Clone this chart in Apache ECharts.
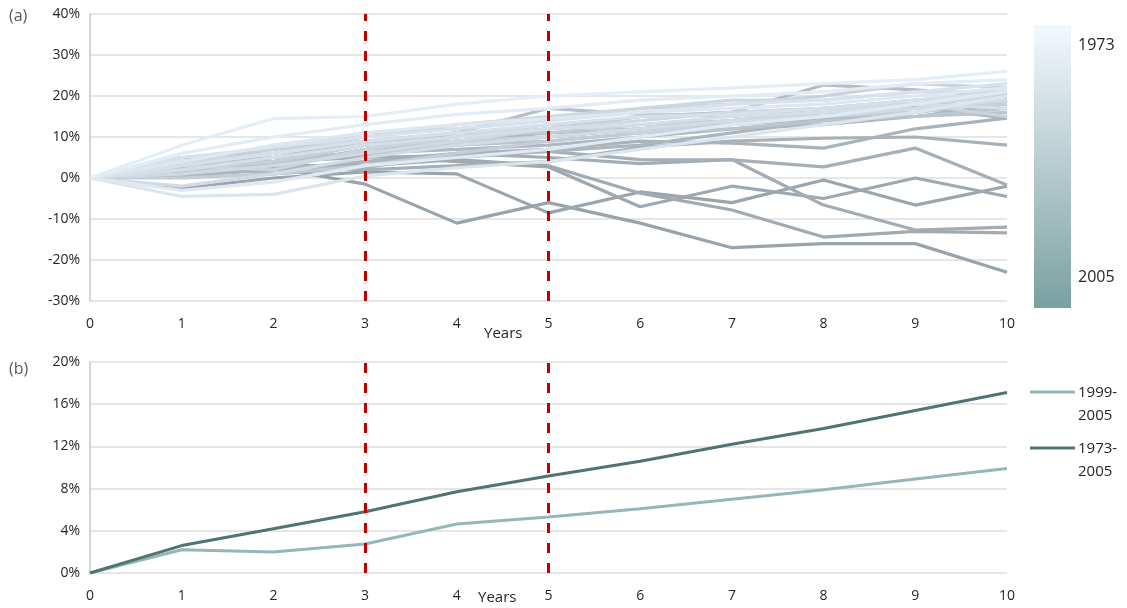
<!DOCTYPE html>
<html>
<head>
<meta charset="utf-8">
<script src="https://cdn.jsdelivr.net/npm/echarts@6/dist/echarts.min.js"></script>
<style>
  html, body { margin: 0; padding: 0; background: #fff; }
  #chart { width: 1127px; height: 608px; }
</style>
</head>
<body>
<div id="chart"></div>
<script>
// years after start
const yearsOut = [0, 1, 2, 3, 4, 5, 6, 7, 8, 9, 10];

// panel (a): one path per start year, 1973 .. 2005 (percent)
const startYears = [];
for (let y = 1973; y <= 2005; y++) startYears.push(y);

const pathsA = [
  [0, 8, 14.5, 15, 18, 20, 21, 22, 23, 24, 26],        // 1973
  [0, 6, 10, 13, 15.5, 17, 19, 20, 21, 23, 24],        // 1974
  [0, -3, -1, 3, 5, 7, 10, 13, 15, 18, 21],            // 1975
  [0, 4, 8, 11, 13, 14.5, 16, 17, 18, 20, 22],         // 1976
  [0, -4.5, -4, 0.5, 2.5, 4, 7, 10, 13, 16, 20],       // 1977
  [0, 5, 7.5, 10, 12, 14, 16, 18, 19, 21, 23],         // 1978
  [0, 3, 6, 9, 11, 13, 15, 15.5, 17, 19, 21],          // 1979
  [0, 2, 5, 8, 10, 12, 13, 15, 16, 18, 17],            // 1980
  [0, -2, 1, 5, 8, 10, 12, 14, 15, 17, 19],            // 1981
  [0, 1, 3, 6, 9, 12, 14, 16, 17, 18, 20],             // 1982
  [0, 4, 6, 10, 13, 15, 17, 19, 19, 21, 21],           // 1983
  [0, 3, 2, 7, 10, 13, 11, 14, 16, 18, 15],            // 1984
  [0, 5, 7, 11, 12, 14, 17, 18, 20, 23, 22],           // 1985
  [0, 2, 4, 8, 9, 10, 12, 14, 16, 17, 18],             // 1986
  [0, 0, 1, 3, 6, 9, 11, 13, 15, 16, 19],              // 1987
  [0, 3, 6, 9, 11, 11, 13, 14, 15, 17, 21],            // 1988
  [0, 4, 7, 9, 10, 12, 15, 16, 17, 18, 20],            // 1989
  [0, 1, 5, 8, 8, 10, 12, 14, 16, 15, 17],             // 1990
  [0, 2, 4, 6, 8, 9, 11, 12, 14, 15, 16],              // 1991
  [0, 3, 5, 6, 9, 10, 12, 14, 15, 16, 19],             // 1992
  [0, 2, 4, 8, 11, 17, 15.5, 15, 17, 19, 20.5],        // 1993
  [0, 3, 5, 9, 10, 12, 15, 16, 22.7, 21.5, 19.8],      // 1994
  [0, 1, 3, 7, 9, 11, 12, 13, 14.5, 16, 19],           // 1995
  [0, 2, 3.5, 6, 7, 8, 10, 12, 13, 15, 18],            // 1996
  [0, 0.5, 2, 4, 5, 6.5, 8, 11, 14, 17.3, 14.6],       // 1997
  [0, 3, 1, 2.5, 6, 7, 9, 8.5, 7.3, 12, 14.6],         // 1998
  [0, 1.5, 3, 2, 3, 4, 7.5, 9, 9.7, 10, 8],            // 1999
  [0, 2.5, 4, 5, 5.5, 6.5, 4.5, 4.4, 2.7, 7.3, -1.7],  // 2000
  [0, 1, 2, 4, 6, 5, 3.5, 4.5, -6.6, -12.7, -12],      // 2001
  [0, 2, 3, 3, 4.5, 3, -3.7, -7.8, -14.4, -13, -13.4], // 2002
  [0, 5, 4, 5.5, 4, 2.7, -7, -2, -5, 0, -4.5],         // 2003
  [0, -2.5, 0, 1.5, 1, -8.5, -3.4, -6, -0.5, -6.6, -2],// 2004
  [0, 3, 2.5, -1.5, -11, -6, -11, -17, -16, -16, -23]  // 2005
];

// panel (b): average paths (percent)
const avg1999 = [0, 2.2, 2.0, 2.75, 4.65, 5.3, 6.1, 7.0, 7.9, 8.9, 9.9];
const avg1973 = [0, 2.6, 4.2, 5.8, 7.7, 9.2, 10.6, 12.2, 13.7, 15.4, 17.1];

const markYears = [3, 5];

const chart = echarts.init(document.getElementById("chart"));

function mix(c1, c2, t) {
  const a = c1.match(/\w\w/g).map(h => parseInt(h, 16));
  const b = c2.match(/\w\w/g).map(h => parseInt(h, 16));
  return "rgb(" + a.map((v, i) => Math.round(v + (b[i] - v) * t)).join(",") + ")";
}

const font = "'Open Sans', sans-serif";
const labelStyle = { color: "#262626", fontSize: 14, fontFamily: font };

const redLine = {
  silent: true,
  symbol: "none",
  label: { show: false },
  lineStyle: { color: "#c00000", width: 3, type: [10, 10] },
  data: markYears.map(x => ({ xAxis: x }))
};

const series = [];
// darker (recent) first so the lighter ones sit on top
for (let i = pathsA.length - 1; i >= 0; i--) {
  const t = i / (pathsA.length - 1);
  series.push({
    name: String(startYears[i]),
    type: "line",
    xAxisIndex: 0,
    yAxisIndex: 0,
    symbol: "none",
    lineStyle: { width: 3.2, color: mix("e4eef8", "99a3ab", t) },
    data: yearsOut.map((x, k) => [x, pathsA[i][k]])
  });
}
series[series.length - 1].markLine = redLine;

series.push({
  name: "1999-2005",
  type: "line",
  xAxisIndex: 1,
  yAxisIndex: 1,
  symbol: "none",
  lineStyle: { width: 3, color: "#94b7b7" },
  data: yearsOut.map((x, k) => [x, avg1999[k]])
});
series.push({
  name: "1973-2005",
  type: "line",
  xAxisIndex: 1,
  yAxisIndex: 1,
  symbol: "none",
  lineStyle: { width: 3, color: "#4e7474" },
  data: yearsOut.map((x, k) => [x, avg1973[k]]),
  markLine: redLine
});

function xAxis(gridIndex) {
  return {
    type: "value",
    gridIndex: gridIndex,
    min: 0,
    max: 10,
    interval: 1,
    axisLine: { show: false },
    axisTick: { show: false },
    splitLine: { show: false },
    axisLabel: Object.assign({ margin: 16 }, labelStyle)
  };
}

function yAxis(gridIndex, min, max, interval) {
  return {
    type: "value",
    gridIndex: gridIndex,
    min: min,
    max: max,
    interval: interval,
    axisLine: { show: true, lineStyle: { color: "#c8c8c8", width: 1.5 } },
    axisTick: { show: false },
    splitLine: { lineStyle: { color: "#dedede", width: 1.5 } },
    axisLabel: Object.assign({ margin: 10, formatter: "{value}%" }, labelStyle)
  };
}

const option = {
  animation: false,
  backgroundColor: "#fff",
  grid: [
    { left: 90, right: 120, top: 14, height: 287 },
    { left: 90, right: 120, top: 362, height: 211 }
  ],
  xAxis: [xAxis(0), xAxis(1)],
  yAxis: [yAxis(0, -30, 40, 10), yAxis(1, 0, 20, 4)],
  series: series,
  graphic: [
    { type: "text", left: 9, top: 8, style: { text: "(a)", fill: "#595959", font: "16px " + font } },
    { type: "text", left: 9, top: 361, style: { text: "(b)", fill: "#595959", font: "16px " + font } },
    { type: "text", left: 484, top: 326, style: { text: "Years", fill: "#262626", font: "15px " + font } },
    { type: "text", left: 478, top: 590, style: { text: "Years", fill: "#262626", font: "15px " + font } },
    {
      type: "rect",
      shape: { x: 1034, y: 25, width: 37, height: 283 },
      style: {
        fill: new echarts.graphic.LinearGradient(0, 0, 0, 1, [
          { offset: 0, color: "#f4f8fc" },
          { offset: 1, color: "#7aa0a1" }
        ])
      }
    },
    { type: "text", x: 1078, y: 45, style: { text: String(startYears[0]), fill: "#262626", font: "16px " + font, verticalAlign: "middle" } },
    { type: "text", x: 1078, y: 277, style: { text: String(startYears[startYears.length - 1]), fill: "#262626", font: "16px " + font, verticalAlign: "middle" } },
    { type: "line", shape: { x1: 1030, y1: 392, x2: 1075, y2: 392 }, style: { stroke: "#94b7b7", lineWidth: 3 } },
    { type: "text", style: { text: "1999-\n2005", fill: "#262626", font: "15px " + font, lineHeight: 23 }, top: 381, left: 1078 },
    { type: "line", shape: { x1: 1030, y1: 448, x2: 1075, y2: 448 }, style: { stroke: "#4e7474", lineWidth: 3 } },
    { type: "text", style: { text: "1973-\n2005", fill: "#262626", font: "15px " + font, lineHeight: 23 }, top: 437, left: 1078 }
  ]
};

chart.setOption(option);
window.addEventListener("resize", () => chart.resize());
</script>
</body>
</html>
